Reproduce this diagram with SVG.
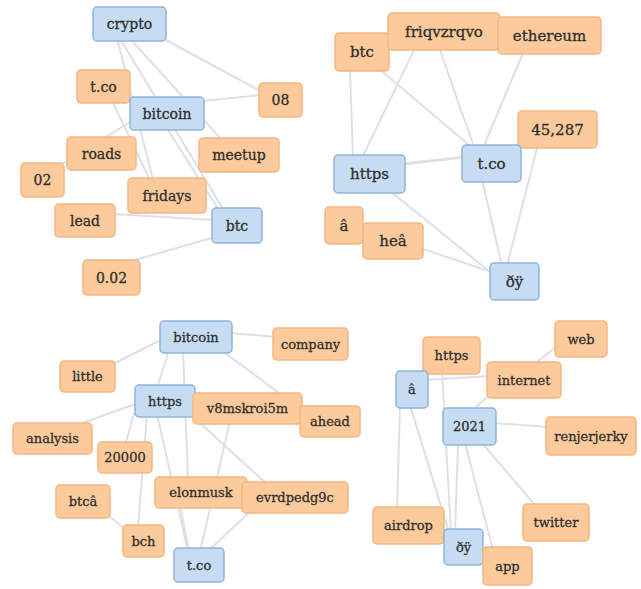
<svg xmlns="http://www.w3.org/2000/svg" width="641" height="589" viewBox="0 0 641 589">
<style>
.o{fill:#FDCB9B;stroke:#F2B684;stroke-width:1.5}
.b{fill:#C6DCF2;stroke:#8FB4D8;stroke-width:1.5}
text{font-family:"DejaVu Serif","Liberation Serif",serif;fill:#2f2f2f;stroke:#2f2f2f;stroke-width:0.3;text-anchor:middle;dominant-baseline:central}
.s14 text{font-size:14px}
.s15 text{font-size:15px}
.s13 text{font-size:13px}
#edges line{stroke:#DDE1E7;stroke-width:2;stroke-linecap:round}
</style>
<rect width="641" height="589" fill="#fff"/>
<g id="edges">
<line x1="166" y1="40" x2="262" y2="92"/>
<line x1="204" y1="101" x2="260" y2="95"/>
<line x1="122" y1="42" x2="225" y2="212"/>
<line x1="133" y1="42" x2="222" y2="140"/>
<line x1="118" y1="42" x2="153" y2="180"/>
<line x1="113" y1="103" x2="150" y2="180"/>
<line x1="132" y1="121" x2="55" y2="168"/>
<line x1="168" y1="130" x2="220" y2="212"/>
<line x1="112" y1="214" x2="215" y2="220"/>
<line x1="222" y1="235" x2="128" y2="262"/>
<line x1="350" y1="70" x2="353" y2="158"/>
<line x1="378" y1="68" x2="475" y2="150"/>
<line x1="415" y1="48" x2="362" y2="158"/>
<line x1="440" y1="50" x2="475" y2="150"/>
<line x1="523" y1="53" x2="483" y2="148"/>
<line x1="403" y1="164" x2="465" y2="157" style="stroke-width:3"/>
<line x1="390" y1="191" x2="500" y2="280"/>
<line x1="420" y1="248" x2="500" y2="275"/>
<line x1="482" y1="180" x2="503" y2="270"/>
<line x1="538" y1="144" x2="506" y2="270"/>
<line x1="163" y1="339" x2="105" y2="368"/>
<line x1="230" y1="333" x2="276" y2="337"/>
<line x1="169" y1="350" x2="157" y2="388"/>
<line x1="183" y1="350" x2="188" y2="480"/>
<line x1="225" y1="353" x2="305" y2="412"/>
<line x1="138" y1="403" x2="77" y2="425"/>
<line x1="134" y1="414" x2="125" y2="445"/>
<line x1="147" y1="414" x2="138" y2="528"/>
<line x1="157" y1="414" x2="188" y2="552"/>
<line x1="190" y1="414" x2="268" y2="485"/>
<line x1="230" y1="421" x2="200" y2="552"/>
<line x1="180" y1="505" x2="189" y2="550"/>
<line x1="108" y1="515" x2="126" y2="530"/>
<line x1="252" y1="510" x2="207" y2="552"/>
<line x1="425" y1="380" x2="490" y2="376"/>
<line x1="400" y1="405" x2="397" y2="510"/>
<line x1="410" y1="405" x2="449" y2="532"/>
<line x1="442" y1="371" x2="451" y2="532"/>
<line x1="533" y1="365" x2="557" y2="346"/>
<line x1="490" y1="394" x2="472" y2="411"/>
<line x1="493" y1="423" x2="549" y2="427"/>
<line x1="482" y1="443" x2="535" y2="505"/>
<line x1="465" y1="443" x2="493" y2="550"/>
<line x1="458" y1="443" x2="455" y2="532"/>
</g>
<g class="s14">
<g id="q1-crypto"><rect class="b" x="93" y="7" width="73" height="34" rx="4"/><text x="129.5" y="24">crypto</text></g>
<g id="q1-tco"><rect class="o" x="77" y="70" width="53" height="33" rx="4"/><text x="103.5" y="86.5">t.co</text></g>
<g id="q1-08"><rect class="o" x="259" y="83" width="43" height="34" rx="4"/><text x="280.5" y="100">08</text></g>
<g id="q1-bitcoin"><rect class="b" x="130" y="97" width="74" height="33" rx="4"/><text x="167" y="113.5">bitcoin</text></g>
<g id="q1-roads"><rect class="o" x="67" y="137" width="69" height="33" rx="4"/><text x="101.5" y="153.5">roads</text></g>
<g id="q1-meetup"><rect class="o" x="199" y="138" width="80" height="34" rx="4"/><text x="239" y="155">meetup</text></g>
<g id="q1-02"><rect class="o" x="21" y="163" width="43" height="34" rx="4"/><text x="42.5" y="180">02</text></g>
<g id="q1-fridays"><rect class="o" x="128" y="178" width="78" height="35" rx="4"/><text x="167" y="195.5">fridays</text></g>
<g id="q1-lead"><rect class="o" x="55" y="204" width="60" height="33" rx="4"/><text x="85" y="220.5">lead</text></g>
<g id="q1-btc"><rect class="b" x="212" y="208" width="50" height="35" rx="4"/><text x="237" y="225.5">btc</text></g>
<g id="q1-002"><rect class="o" x="83" y="260" width="57" height="35" rx="4"/><text x="111.5" y="277.5">0.02</text></g>
</g>
<g class="s15">
<g id="q2-btc"><rect class="o" x="335" y="33" width="54" height="38" rx="4"/><text x="362" y="52">btc</text></g>
<g id="q2-friqvzrqvo"><rect class="o" x="388" y="13" width="112" height="37" rx="4"/><text x="444" y="31.5">friqvzrqvo</text></g>
<g id="q2-ethereum"><rect class="o" x="498" y="17" width="103" height="37" rx="4"/><text x="549.5" y="35.5">ethereum</text></g>
<g id="q2-45287"><rect class="o" x="518" y="111" width="79" height="37" rx="4"/><text x="557.5" y="129.5">45,287</text></g>
<g id="q2-tco"><rect class="b" x="462" y="145" width="59" height="37" rx="4"/><text x="491.5" y="163.5">t.co</text></g>
<g id="q2-https"><rect class="b" x="334" y="155" width="71" height="38" rx="4"/><text x="369.5" y="174">https</text></g>
<g id="q2-a"><rect class="o" x="325" y="207" width="38" height="37" rx="4"/><text x="344" y="225.5">â</text></g>
<g id="q2-hea"><rect class="o" x="363" y="223" width="60" height="36" rx="4"/><text x="393" y="241">heâ</text></g>
<g id="q2-dy"><rect class="b" x="490" y="263" width="49" height="37" rx="4"/><text x="514.5" y="281.5">ðÿ</text></g>
</g>
<g class="s13">
<g id="q3-bitcoin"><rect class="b" x="160" y="321" width="72" height="32" rx="4"/><text x="196" y="337">bitcoin</text></g>
<g id="q3-company"><rect class="o" x="273" y="328" width="75" height="32" rx="4"/><text x="310.5" y="344">company</text></g>
<g id="q3-little"><rect class="o" x="60" y="361" width="55" height="31" rx="4"/><text x="87.5" y="376.5">little</text></g>
<g id="q3-https"><rect class="b" x="135" y="385" width="60" height="32" rx="4"/><text x="165" y="401">https</text></g>
<g id="q3-v8mskroi5m"><rect class="o" x="193" y="393" width="109" height="31" rx="4"/><text x="247.5" y="408.5">v8mskroi5m</text></g>
<g id="q3-ahead"><rect class="o" x="300" y="406" width="60" height="31" rx="4"/><text x="330" y="421.5">ahead</text></g>
<g id="q3-analysis"><rect class="o" x="13" y="423" width="79" height="31" rx="4"/><text x="52.5" y="438.5">analysis</text></g>
<g id="q3-20000"><rect class="o" x="98" y="442" width="54" height="31" rx="4"/><text x="125" y="457.5">20000</text></g>
<g id="q3-elonmusk"><rect class="o" x="155" y="477" width="92" height="31" rx="4"/><text x="201" y="492.5">elonmusk</text></g>
<g id="q3-evrdpedg9c"><rect class="o" x="242" y="482" width="106" height="31" rx="4"/><text x="295" y="497.5">evrdpedg9c</text></g>
<g id="q3-btca"><rect class="o" x="56" y="485" width="54" height="33" rx="4"/><text x="83" y="501.5">btcâ</text></g>
<g id="q3-bch"><rect class="o" x="123" y="525" width="41" height="32" rx="4"/><text x="143.5" y="541">bch</text></g>
<g id="q3-tco"><rect class="b" x="174" y="548" width="50" height="34" rx="4"/><text x="199" y="565">t.co</text></g>
</g>
<g class="s13">
<g id="q4-web"><rect class="o" x="555" y="321" width="52" height="36" rx="4"/><text x="581" y="339">web</text></g>
<g id="q4-https"><rect class="o" x="423" y="337" width="57" height="37" rx="4"/><text x="451.5" y="355.5">https</text></g>
<g id="q4-internet"><rect class="o" x="487" y="362" width="74" height="36" rx="4"/><text x="524" y="380">internet</text></g>
<g id="q4-a"><rect class="b" x="396" y="371" width="32" height="37" rx="4"/><text x="412" y="389.5">â</text></g>
<g id="q4-2021"><rect class="b" x="443" y="408" width="53" height="37" rx="4"/><text x="469.5" y="426.5">2021</text></g>
<g id="q4-renjerjerky"><rect class="o" x="546" y="417" width="90" height="38" rx="4"/><text x="591" y="436">renjerjerky</text></g>
<g id="q4-airdrop"><rect class="o" x="373" y="507" width="71" height="37" rx="4"/><text x="408.5" y="525.5">airdrop</text></g>
<g id="q4-twitter"><rect class="o" x="523" y="504" width="66" height="37" rx="4"/><text x="556" y="522.5">twitter</text></g>
<g id="q4-dy"><rect class="b" x="444" y="529" width="39" height="36" rx="4"/><text x="463.5" y="547">ðÿ</text></g>
<g id="q4-app"><rect class="o" x="483" y="547" width="49" height="38" rx="4"/><text x="507.5" y="566">app</text></g>
</g>
</svg>
